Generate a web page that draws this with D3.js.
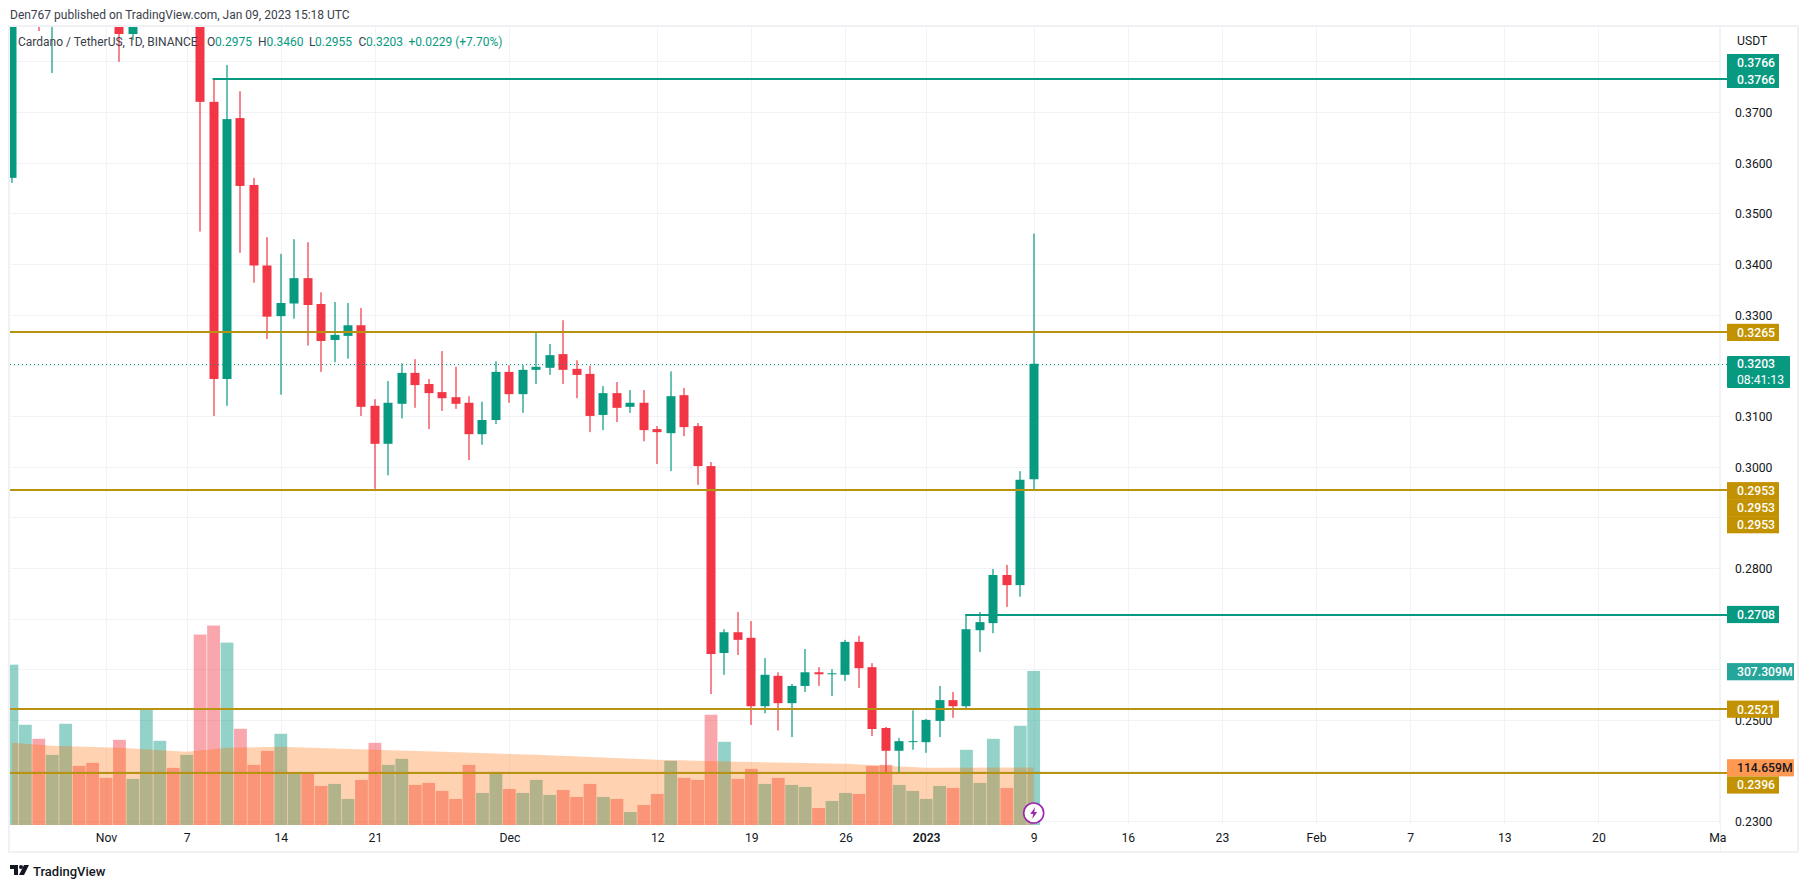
<!DOCTYPE html>
<html>
<head>
<meta charset="utf-8">
<script src="https://cdn.jsdelivr.net/npm/d3@7"></script>
<style>
  html, body { margin: 0; padding: 0; background: #fff; }
  svg { display: block; }
  text { font-family: Roboto, sans-serif; }
</style>
</head>
<body>
<script>
// one entry per day, index 0 = Oct 25 2022, index 76 = Jan 9 2023
// days up to Nov 8 are mostly above the visible price range, so those are rough
var opens = [
  0.3570, 0.3900, 0.4000, 0.3950, 0.4150, 0.4350, 0.4200,
  0.4150, 0.4100, 0.3854, 0.3950, 0.4200, 0.4300, 0.4050, 0.4150, 0.3720, 0.3173, 0.3688, 0.3556, 0.3397,
  0.3297, 0.3322, 0.3372, 0.3321, 0.3250, 0.3258, 0.3279, 0.3120, 0.3045, 0.3124, 0.3185, 0.3163, 0.3147, 0.3137, 0.3126, 0.3064, 0.3092,
  0.3187, 0.3143, 0.3191, 0.3195, 0.3222, 0.3193, 0.3183, 0.3102, 0.3145, 0.3118, 0.3126, 0.3074, 0.3066, 0.3141, 0.3080, 0.3001, 0.2632,
  0.2673, 0.2662, 0.2527, 0.2587, 0.2533, 0.2567, 0.2594, 0.2590, 0.2589, 0.2654, 0.2604, 0.2484, 0.2439, 0.2457,
  0.2456, 0.2498, 0.2539, 0.2527, 0.2677, 0.2691, 0.2786, 0.2766, 0.2975
];
var highs = [
  0.3950, 0.4050, 0.4050, 0.4250, 0.4450, 0.4400, 0.4300,
  0.4200, 0.4220, 0.4000, 0.4300, 0.4400, 0.4350, 0.4200, 0.4200, 0.3765, 0.3793, 0.3741, 0.3570, 0.3453,
  0.3420, 0.3449, 0.3443, 0.3344, 0.3325, 0.3323, 0.3313, 0.3133, 0.3169, 0.3204, 0.3212, 0.3173, 0.3228, 0.3197, 0.3139, 0.3128, 0.3208,
  0.3200, 0.3200, 0.3264, 0.3242, 0.3289, 0.3210, 0.3199, 0.3159, 0.3167, 0.3151, 0.3151, 0.3080, 0.3188, 0.3155, 0.3086, 0.3009, 0.2679,
  0.2713, 0.2695, 0.2622, 0.2594, 0.2571, 0.2640, 0.2604, 0.2600, 0.2658, 0.2666, 0.2612, 0.2486, 0.2464, 0.2519,
  0.2502, 0.2567, 0.2555, 0.2709, 0.2713, 0.2798, 0.2806, 0.2991, 0.3460
];
var lows = [
  0.3560, 0.3880, 0.3860, 0.3777, 0.4120, 0.4180, 0.4050,
  0.4000, 0.3799, 0.3842, 0.3930, 0.4150, 0.4000, 0.4000, 0.3464, 0.3100, 0.3120, 0.3422, 0.3363, 0.3252,
  0.3142, 0.3292, 0.3239, 0.3187, 0.3206, 0.3213, 0.3100, 0.2956, 0.2983, 0.3095, 0.3116, 0.3074, 0.3110, 0.3114, 0.3013, 0.3043, 0.3084,
  0.3126, 0.3106, 0.3163, 0.3181, 0.3163, 0.3135, 0.3068, 0.3072, 0.3088, 0.3106, 0.3050, 0.3005, 0.2991, 0.3060, 0.2964, 0.2551, 0.2589,
  0.2628, 0.2490, 0.2513, 0.2479, 0.2466, 0.2555, 0.2567, 0.2547, 0.2577, 0.2563, 0.2468, 0.2397, 0.2395, 0.2441,
  0.2435, 0.2466, 0.2504, 0.2523, 0.2634, 0.2671, 0.2723, 0.2743, 0.2955
];
var closes = [
  0.3900, 0.4000, 0.3950, 0.4150, 0.4350, 0.4200, 0.4150,
  0.4100, 0.3854, 0.3950, 0.4200, 0.4300, 0.4050, 0.4150, 0.3720, 0.3173, 0.3686, 0.3554, 0.3397, 0.3296,
  0.3323, 0.3372, 0.3319, 0.3248, 0.3260, 0.3279, 0.3118, 0.3045, 0.3126, 0.3185, 0.3161, 0.3145, 0.3135, 0.3124, 0.3064, 0.3092, 0.3187,
  0.3143, 0.3191, 0.3197, 0.3220, 0.3191, 0.3181, 0.3100, 0.3145, 0.3116, 0.3126, 0.3072, 0.3068, 0.3139, 0.3078, 0.3001, 0.2630, 0.2673,
  0.2658, 0.2527, 0.2589, 0.2533, 0.2567, 0.2594, 0.2590, 0.2592, 0.2654, 0.2602, 0.2482, 0.2439, 0.2458, 0.2458,
  0.2500, 0.2539, 0.2527, 0.2679, 0.2693, 0.2786, 0.2766, 0.2974, 0.3203
];
// millions
var volumes = [
  320, 200, 172, 140, 202, 118, 124,
  94, 170, 92, 230, 168, 114, 140, 380, 398, 364, 192, 120, 148,
  182, 104, 105, 78, 82, 52, 90, 164, 120, 132, 80, 84, 68, 52, 120, 64, 106,
  72, 64, 90, 60, 70, 56, 82, 56, 52, 26, 40, 62, 128, 94, 90, 220, 166,
  92, 112, 82, 94, 80, 76, 34, 48, 64, 62, 118, 120, 80, 68,
  52, 78, 74, 150, 84, 172, 74, 198, 307.309
];
// volume moving average, read at a few days only
var maDays = [0, 3, 8, 13, 16, 20, 27, 32, 39, 48, 54, 62, 68, 76];
var maValues = [164, 158, 154, 146, 154, 156, 150, 146, 140, 130, 126, 122, 114, 114.659];

var gridPrices = [0.38, 0.37, 0.36, 0.35, 0.34, 0.33, 0.32, 0.31, 0.30, 0.29, 0.28, 0.27, 0.26, 0.25, 0.24, 0.23];
// the others sit under price tags in the original
var priceTicks = [0.37, 0.36, 0.35, 0.34, 0.33, 0.31, 0.30, 0.28, 0.25, 0.23];
var timeTickDays = [7, 13, 20, 27, 37, 48, 55, 62, 68, 76, 83, 90, 97, 104, 111, 118, 127];
var timeTickLabels = ['Nov', '7', '14', '21', 'Dec', '12', '19', '26', '2023', '9', '16', '23', 'Feb', '7', '13', '20', 'Mar'];

var goldLevels = [0.3265, 0.2953, 0.2521, 0.2396];
var tealLevels = [{ day: 15, price: 0.3766 }, { day: 71, price: 0.2708 }];
var lastPrice = 0.3203;

var teal = '#089981', red = '#f23645', gold = '#b8930f', goldTag = '#c29200';
var frame = '#eff1f5', grid = '#f2f3f6', ink = '#131722';

var left = 10, right = 1720, top_ = 27, bottom = 825, axisBottom = 852, tagX = 1727;

var svg = d3.select('body').append('svg').attr('width', 1809).attr('height', 888);

var x = d3.scaleLinear().domain([0, 76]).range([11.9, 1033.7]);
var y = d3.scaleLinear().domain([0.23, 0.37]).range([821.2, 112]);
var v = d3.scaleLinear().domain([0, 307.309]).range([825, 671]);

var defs = svg.append('defs');
defs.append('clipPath').attr('id', 'plot').append('rect')
  .attr('x', left).attr('y', top_).attr('width', right - left).attr('height', bottom - top_);
defs.append('clipPath').attr('id', 'timeaxis').append('rect')
  .attr('x', left).attr('y', 0).attr('width', tagX - left).attr('height', axisBottom - bottom);

svg.append('text').attr('x', 10).attr('y', 19).attr('font-size', 12).attr('fill', '#3a3e4a')
  .text('Den767 published on TradingView.com, Jan 09, 2023 15:18 UTC');

// grid
var gridG = svg.append('g').attr('clip-path', 'url(#plot)');
gridG.selectAll('.h').data(gridPrices).enter().append('line')
  .attr('x1', left).attr('x2', right)
  .attr('y1', function (d) { return Math.round(y(d)) + 0.5; })
  .attr('y2', function (d) { return Math.round(y(d)) + 0.5; })
  .attr('stroke', grid);
gridG.selectAll('.v').data(timeTickDays).enter().append('line')
  .attr('y1', top_).attr('y2', bottom)
  .attr('x1', function (d) { return Math.round(x(d)) + 0.5; })
  .attr('x2', function (d) { return Math.round(x(d)) + 0.5; })
  .attr('stroke', grid);

// frame
svg.append('rect').attr('x', left - 1).attr('y', top_ - 1).attr('width', 1798 - left + 1).attr('height', axisBottom - top_ + 1)
  .attr('fill', 'none').attr('stroke', frame).attr('stroke-width', 2);
svg.append('line').attr('x1', right + 0.5).attr('x2', right + 0.5).attr('y1', top_).attr('y2', axisBottom).attr('stroke', grid);

var plot = svg.append('g').attr('clip-path', 'url(#plot)');

// volume
plot.selectAll('.vol').data(volumes).enter().append('rect')
  .attr('x', function (d, i) { return x(i) - 6.4; })
  .attr('width', 12.8)
  .attr('y', function (d) { return v(d); })
  .attr('height', function (d) { return bottom - v(d); })
  .attr('fill', function (d, i) { return closes[i] >= opens[i] ? teal : red; })
  .attr('fill-opacity', 0.44);

var maArea = d3.area()
  .x(function (d) { return x(d); })
  .y0(bottom)
  .y1(function (d, i) { return v(maValues[i]); });
plot.append('path').datum(maDays).attr('d', maArea)
  .attr('fill', '#ff6d00').attr('fill-opacity', 0.3);

// candles
var candles = plot.selectAll('.candle').data(opens).enter().append('g')
  .attr('fill', function (d, i) { return closes[i] >= opens[i] ? teal : red; });
candles.append('rect')
  .attr('x', function (d, i) { return Math.round(x(i)) - 0.6; })
  .attr('width', 1.2)
  .attr('y', function (d, i) { return y(highs[i]); })
  .attr('height', function (d, i) { return y(lows[i]) - y(highs[i]); });
candles.append('rect')
  .attr('x', function (d, i) { return Math.round(x(i)) - 4.5; })
  .attr('width', 9)
  .attr('y', function (d, i) { return y(Math.max(opens[i], closes[i])); })
  .attr('height', function (d, i) { return Math.max(1, Math.abs(y(opens[i]) - y(closes[i]))); });

// horizontal levels
svg.selectAll('.gold').data(goldLevels).enter().append('line')
  .attr('x1', left).attr('x2', tagX)
  .attr('y1', function (d) { return Math.round(y(d)); })
  .attr('y2', function (d) { return Math.round(y(d)); })
  .attr('stroke', gold).attr('stroke-width', 2);
svg.selectAll('.level').data(tealLevels).enter().append('line')
  .attr('x1', function (d) { return x(d.day) - 1; }).attr('x2', tagX)
  .attr('y1', function (d) { return Math.round(y(d.price)); })
  .attr('y2', function (d) { return Math.round(y(d.price)); })
  .attr('stroke', teal).attr('stroke-width', 2);
svg.append('line')
  .attr('x1', left).attr('x2', tagX)
  .attr('y1', Math.round(y(lastPrice)) + 0.5).attr('y2', Math.round(y(lastPrice)) + 0.5)
  .attr('stroke', teal).attr('stroke-dasharray', '1 3');

// axes
var yAxis = svg.append('g').attr('transform', 'translate(' + (tagX + 2) + ',0.6)')
  .call(d3.axisRight(y).tickValues(priceTicks).tickSize(0).tickPadding(6).tickFormat(d3.format('.4f')));
yAxis.select('.domain').remove();
yAxis.selectAll('text').attr('font-size', 12.2).attr('fill', ink).attr('font-family', 'Roboto, sans-serif');

var xAxis = svg.append('g').attr('transform', 'translate(0,' + bottom + ')').attr('clip-path', 'url(#timeaxis)');
xAxis.call(d3.axisBottom(x).tickValues(timeTickDays).tickSize(0).tickPadding(8.5)
  .tickFormat(function (d, i) { return timeTickLabels[i]; }));
xAxis.select('.domain').remove();
xAxis.selectAll('text').attr('font-size', 12.2).attr('fill', ink).attr('font-family', 'Roboto, sans-serif')
  .attr('font-weight', function (d) { return d === 68 ? 600 : 400; });

svg.append('text').attr('x', 1737).attr('y', 45).attr('font-size', 12.2).attr('fill', ink).text('USDT');

// price tags
var tags = [
  { cy: 62.6, label: '0.3766', fill: teal, w: 52 },
  { cy: 79.4, label: '0.3766', fill: teal, w: 52 },
  { cy: 332.4, label: '0.3265', fill: goldTag, w: 52 },
  { cy: 490.7, label: '0.2953', fill: goldTag, w: 52 },
  { cy: 507.7, label: '0.2953', fill: goldTag, w: 52 },
  { cy: 524.7, label: '0.2953', fill: goldTag, w: 52 },
  { cy: 614.5, label: '0.2708', fill: teal, w: 52 },
  { cy: 671.7, label: '307.309M', fill: '#26a69a', w: 67 },
  { cy: 709.2, label: '0.2521', fill: goldTag, w: 52 },
  { cy: 767.8, label: '114.659M', fill: '#ff9850', w: 67, ink: ink },
  { cy: 785, label: '0.2396', fill: goldTag, w: 52 }
];
var tagG = svg.selectAll('.tag').data(tags).enter().append('g');
tagG.append('rect')
  .attr('x', tagX)
  .attr('y', function (d) { return d.cy - 8.6; })
  .attr('width', function (d) { return d.w; })
  .attr('height', 17.2)
  .attr('fill', function (d) { return d.fill; });
tagG.append('text')
  .attr('x', tagX + 10)
  .attr('y', function (d) { return d.cy + 4.3; })
  .attr('font-size', 12.2).attr('font-weight', 500)
  .attr('fill', function (d) { return d.ink || '#fff'; })
  .text(function (d) { return d.label; });

svg.append('rect').attr('x', tagX).attr('y', 356).attr('width', 63).attr('height', 32).attr('rx', 1).attr('fill', teal);
svg.append('text').attr('x', tagX + 10).attr('y', 368).attr('font-size', 12.2).attr('font-weight', 500).attr('fill', '#fff').text('0.3203');
svg.append('text').attr('x', tagX + 10).attr('y', 384).attr('font-size', 12.2).attr('fill', '#fff').text('08:41:13');

// legend
var legend = [
  { x: 18, t: 'Cardano / TetherUS, 1D, BINANCE', c: '#3a3e4a' },
  { x: 207, t: 'O', c: '#3a3e4a' }, { x: 215, t: '0.2975', c: teal },
  { x: 258, t: 'H', c: '#3a3e4a' }, { x: 266.5, t: '0.3460', c: teal },
  { x: 309, t: 'L', c: '#3a3e4a' }, { x: 315, t: '0.2955', c: teal },
  { x: 358.5, t: 'C', c: '#3a3e4a' }, { x: 366, t: '0.3203', c: teal },
  { x: 408.5, t: '+0.0229 (+7.70%)', c: teal }
];
svg.selectAll('.legend').data(legend).enter().append('text')
  .attr('x', function (d) { return d.x; })
  .attr('y', 46)
  .attr('font-size', 12)
  .attr('fill', function (d) { return d.c; })
  .text(function (d) { return d.t; });

// event marker under the last bar
var mark = svg.append('g').attr('transform', 'translate(' + x(76) + ',813)');
mark.append('circle').attr('r', 10).attr('fill', '#fff').attr('stroke', '#9c27b0').attr('stroke-width', 1.6);
mark.append('path').attr('d', 'M1.5,-6 L-3.5,1 L-0.5,1 L-1.5,6 L3.5,-1 L0.5,-1 Z').attr('fill', '#9c27b0');

// logo
var logo = svg.append('g').attr('transform', 'translate(10,864)').attr('fill', ink);
logo.append('path').attr('d', 'M0,1 H8 V11 H4 V5 H0 Z');
logo.append('circle').attr('cx', 11).attr('cy', 3).attr('r', 2);
logo.append('path').attr('d', 'M14,1 H19 L14,11 H9 Z');
svg.append('text').attr('x', 33).attr('y', 876).attr('font-size', 13).attr('font-weight', 500).attr('fill', ink).text('TradingView');
</script>
</body>
</html>
